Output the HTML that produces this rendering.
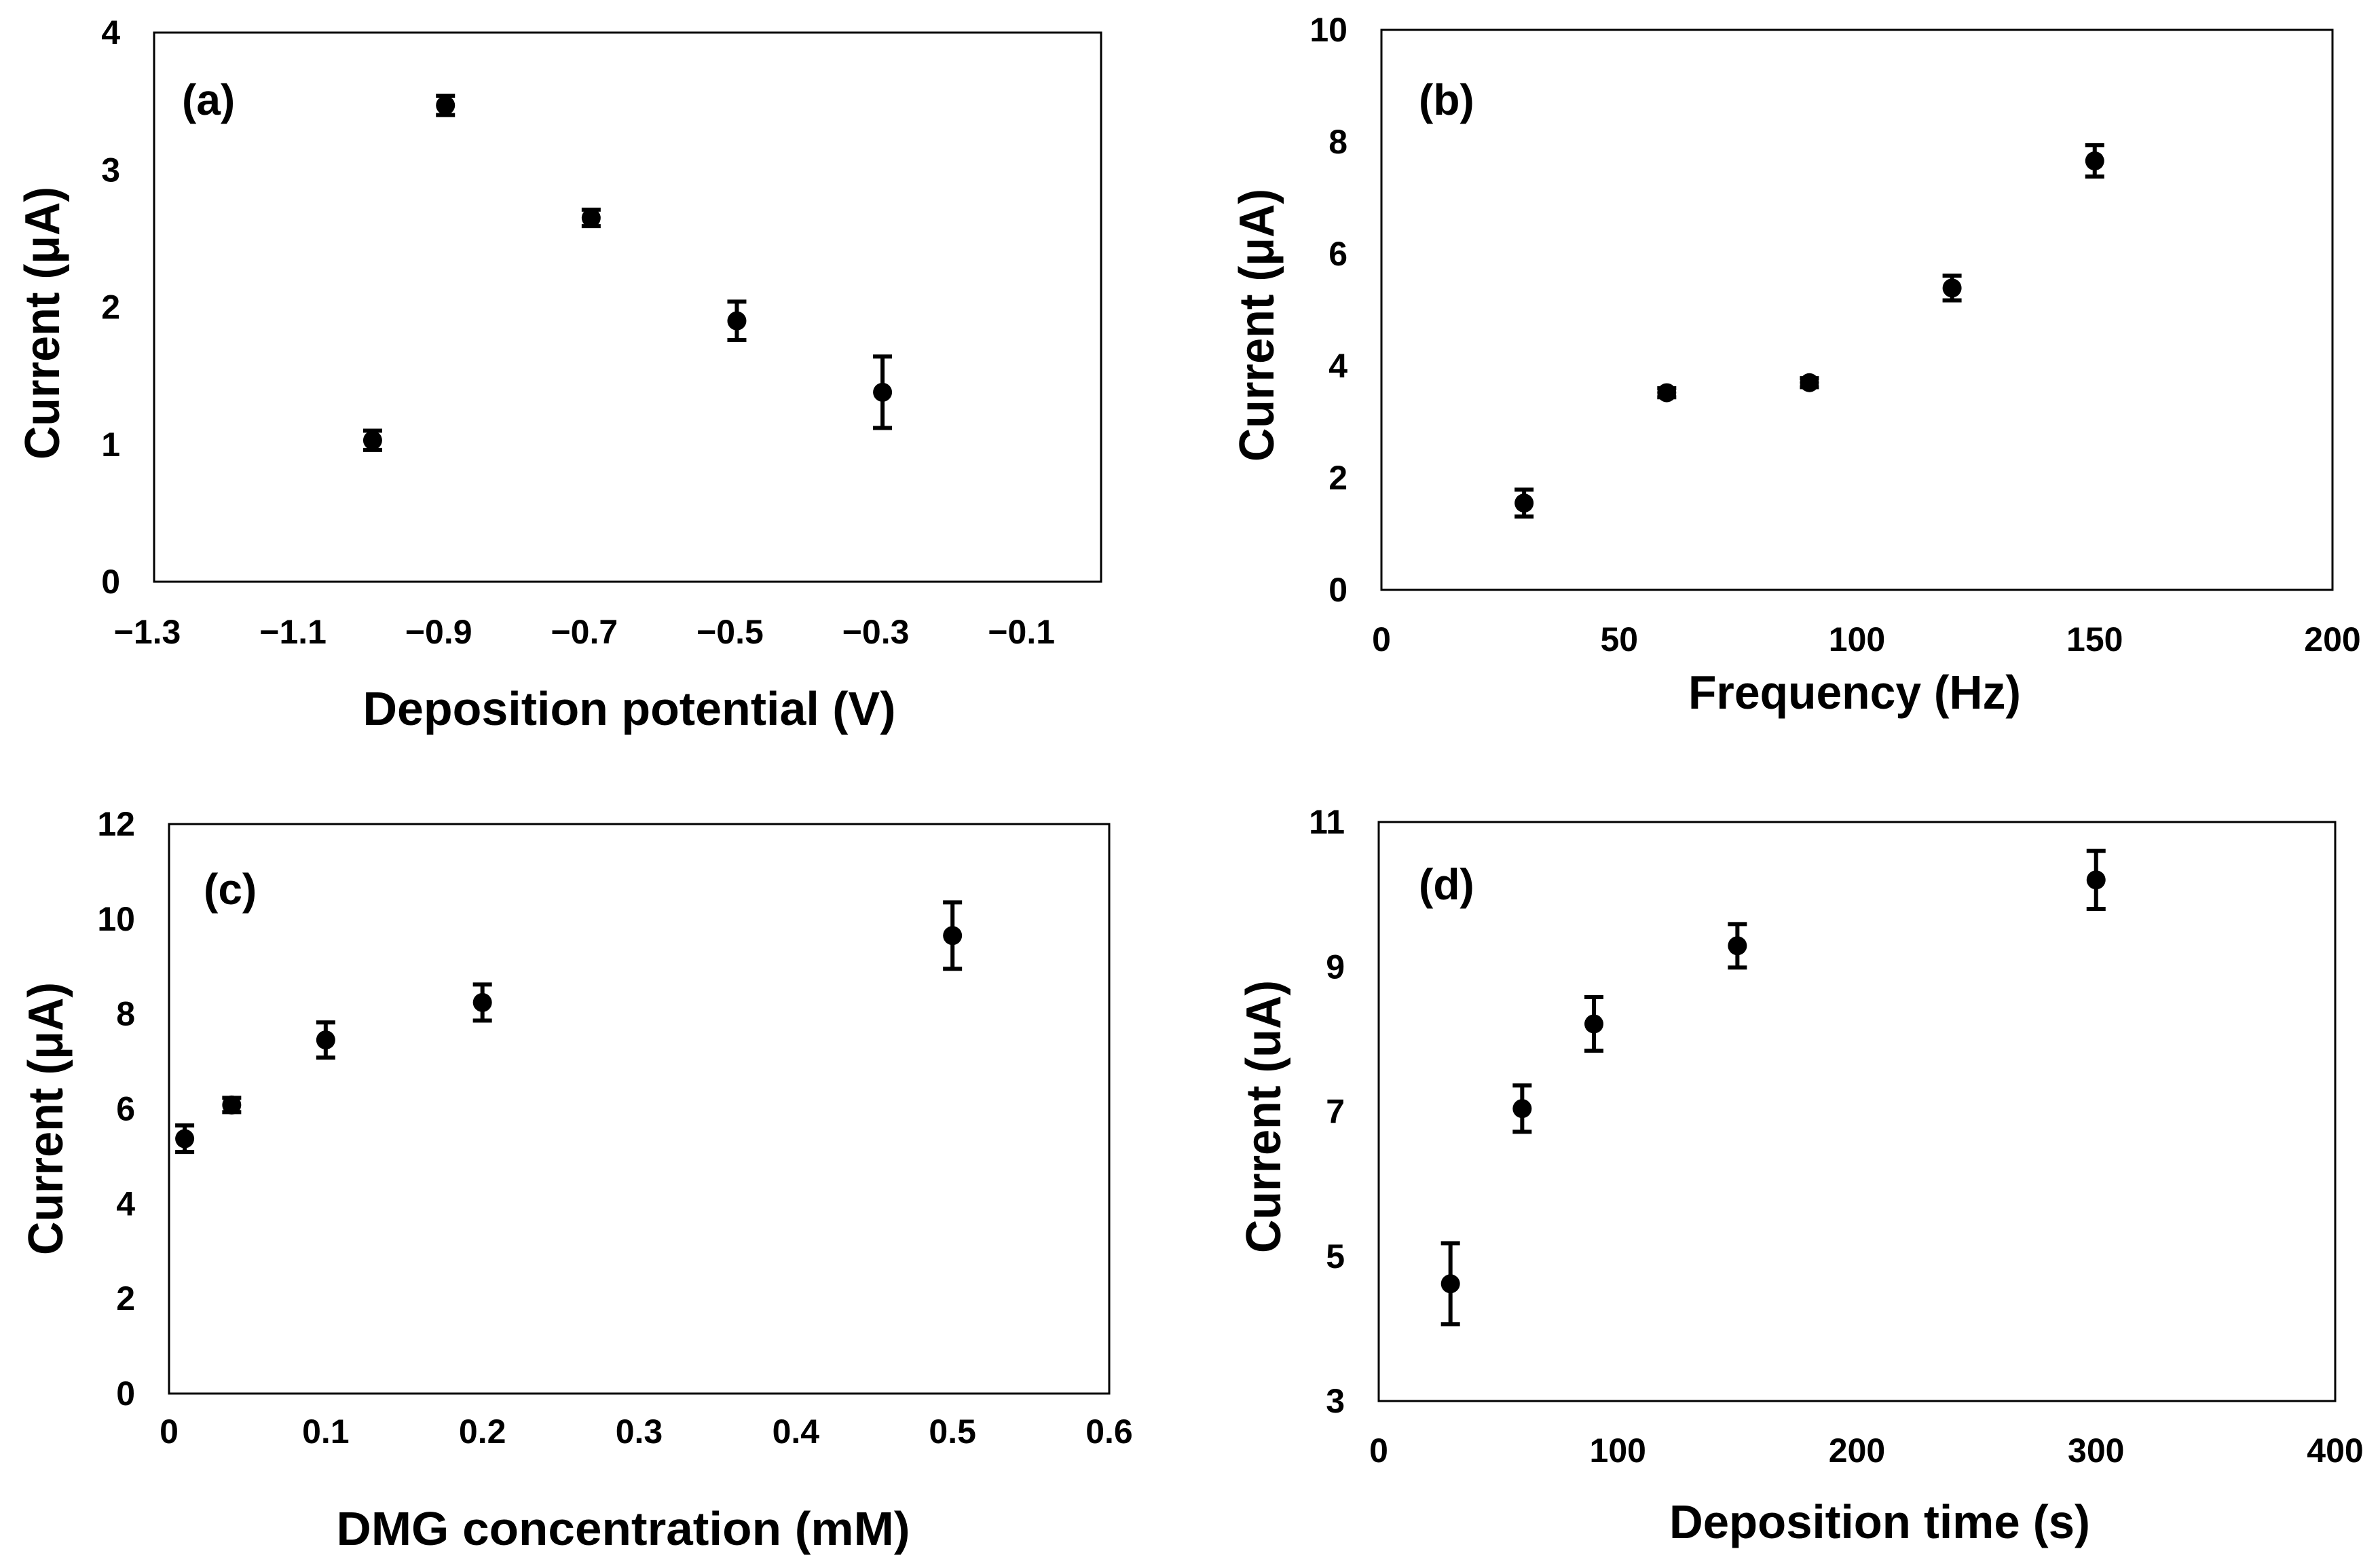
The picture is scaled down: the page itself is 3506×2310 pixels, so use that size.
<!DOCTYPE html>
<html><head><meta charset="utf-8"><style>
html,body{margin:0;padding:0;background:#fff;}
svg{display:block;}
text{font-family:"Liberation Sans Narrow","Liberation Sans",sans-serif;font-weight:bold;fill:#000;}
.yt{font-family:"Liberation Sans",sans-serif;}
</style></head><body>
<svg id="fig" width="3506" height="2310" viewBox="0 0 3506 2310" xmlns="http://www.w3.org/2000/svg"></svg>
<script>
// Panel (a)
const aX = [-1.0, -0.9, -0.7, -0.5, -0.3];
const aY = [1.03, 3.47, 2.65, 1.9, 1.38];
const aErr = [0.07, 0.07, 0.06, 0.14, 0.26];
const aXTicks = [-1.3, -1.1, -0.9, -0.7, -0.5, -0.3, -0.1];
const aXTickLabels = ["\u22121.3","\u22121.1","\u22120.9","\u22120.7","\u22120.5","\u22120.3","\u22120.1"];
const aYTicks = [0, 1, 2, 3, 4];
// Panel (b)
const bX = [30, 60, 90, 120, 150];
const bY = [1.55, 3.52, 3.7, 5.39, 7.66];
const bErr = [0.24, 0.08, 0.08, 0.22, 0.28];
const bXTicks = [0, 50, 100, 150, 200];
const bYTicks = [0, 2, 4, 6, 8, 10];
// Panel (c)
const cX = [0.01, 0.04, 0.1, 0.2, 0.5];
const cY = [5.37, 6.08, 7.45, 8.24, 9.65];
const cErr = [0.28, 0.15, 0.37, 0.38, 0.7];
const cXTicks = [0, 0.1, 0.2, 0.3, 0.4, 0.5, 0.6];
const cYTicks = [0, 2, 4, 6, 8, 10, 12];
// Panel (d)
const dX = [30, 60, 90, 150, 300];
const dY = [4.62, 7.04, 8.21, 9.29, 10.2];
const dErr = [0.56, 0.32, 0.37, 0.3, 0.4];
const dXTicks = [0, 100, 200, 300, 400];
const dYTicks = [3, 5, 7, 9, 11];

const NS = "http://www.w3.org/2000/svg";
const svg = document.getElementById('fig');
function mk(tag, attrs, parent){
  const e = document.createElementNS(NS, tag);
  for (const k in attrs) e.setAttribute(k, attrs[k]);
  (parent||svg).appendChild(e);
  return e;
}
function panel(cfg){
  const g = mk('g', {});
  
  
  const sx = v => cfg.x0 + (v - cfg.xmin) / (cfg.xmax - cfg.xmin) * (cfg.x1 - cfg.x0);
  const sy = v => cfg.y1 - (v - cfg.ymin) / (cfg.ymax - cfg.ymin) * (cfg.y1 - cfg.y0);
  const box = mk('rect', {x:cfg.x0, y:cfg.y0, width:cfg.x1-cfg.x0, height:cfg.y1-cfg.y0, fill:'none', stroke:'#000', 'stroke-width':3}, g);
  
  
  cfg.yTicks.forEach(v => {
    const t = mk('text', {x:cfg.x0-50, y:sy(v), 'text-anchor':'end', 'dominant-baseline':'central', 'font-size':50}, g);
    t.textContent = String(v);
    
    
  });
  cfg.xTicks.forEach((v,i) => {
    const t = mk('text', {x:sx(v) + (cfg.xOff||0), y:cfg.xTickY, 'text-anchor':'middle', 'font-size':50}, g);
    t.textContent = cfg.xLabels ? cfg.xLabels[i] : String(v);
    
    
  });
  const xt = mk('text', {x:cfg.xtX, y:cfg.xtY, 'text-anchor':'middle', 'font-size':70, textLength:cfg.xtLen, lengthAdjust:'spacingAndGlyphs'}, g);
  xt.textContent = cfg.xTitle;
  
  
  const yt = mk('text', {x:0, y:0, 'text-anchor':'middle', 'dominant-baseline':'central', 'font-size':72, class:'yt', textLength:402, lengthAdjust:'spacingAndGlyphs', transform:'translate(' + cfg.ytX + ',' + cfg.ytY + ') rotate(-90)'}, g);
  yt.textContent = cfg.yTitle;
  
  
  const pl = mk('text', {x:cfg.lx, y:cfg.ly, 'font-size':64}, g);
  pl.textContent = '(' + cfg.id + ')';
  
  
  cfg.xs.forEach((xv, i) => {
    const cx = sx(xv), cy = sy(cfg.ys[i]);
    const top = sy(cfg.ys[i] + cfg.errs[i]), bot = sy(cfg.ys[i] - cfg.errs[i]);
    const eb = mk('path', {d:'M'+cx+','+top+'V'+bot+'M'+(cx-14)+','+top+'H'+(cx+14)+'M'+(cx-14)+','+bot+'H'+(cx+14), stroke:'#000', 'stroke-width':6, fill:'none'}, g);
    
    
    const c = mk('circle', {cx:cx, cy:cy, r:14, fill:'#000'}, g);
    
    
  });
}
panel({id:'a', x0:227, y0:48, x1:1622, y1:857, xmin:-1.3, xmax:0, ymin:0, ymax:4,
  xs:aX, ys:aY, errs:aErr, xTicks:aXTicks, xLabels:aXTickLabels, yTicks:aYTicks, xOff:-10, xTickY:948,
  xTitle:'Deposition potential (V)', xtX:927, xtY:1068, xtLen:785, yTitle:'Current (\u03bcA)', ytX:63, ytY:476, lx:268, ly:169});
panel({id:'b', x0:2035, y0:44, x1:3436, y1:869, xmin:0, xmax:200, ymin:0, ymax:10,
  xs:bX, ys:bY, errs:bErr, xTicks:bXTicks, yTicks:bYTicks, xTickY:959,
  xTitle:'Frequency (Hz)', xtX:2732, xtY:1044, xtLen:490, yTitle:'Current (\u03bcA)', ytX:1852, ytY:479, lx:2090, ly:169});
panel({id:'c', x0:249, y0:1214, x1:1634, y1:2053, xmin:0, xmax:0.6, ymin:0, ymax:12,
  xs:cX, ys:cY, errs:cErr, xTicks:cXTicks, yTicks:cYTicks, xTickY:2126,
  xTitle:'DMG concentration (mM)', xtX:918, xtY:2276, xtLen:845, yTitle:'Current (\u03bcA)', ytX:68, ytY:1648, lx:300, ly:1332});
panel({id:'d', x0:2031, y0:1211, x1:3440, y1:2064, xmin:0, xmax:400, ymin:3, ymax:11,
  xs:dX, ys:dY, errs:dErr, xTicks:dXTicks, yTicks:dYTicks, xTickY:2154,
  xTitle:'Deposition time (s)', xtX:2769, xtY:2266, xtLen:620, yTitle:'Current (uA)', ytX:1862, ytY:1645, lx:2090, ly:1325});
</script>
</body></html>
